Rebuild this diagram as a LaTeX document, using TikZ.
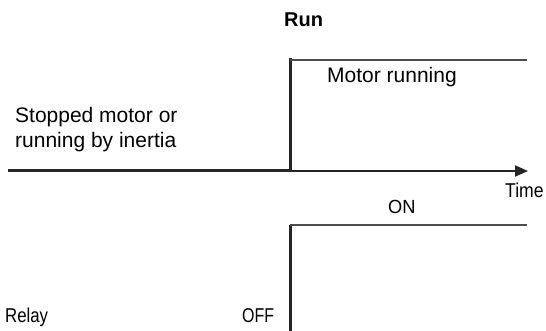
\documentclass[tikz,border=0pt]{standalone}
\usepackage{fontspec}
\setmainfont{Liberation Sans}
\usetikzlibrary{arrows.meta}
\begin{document}
\begin{tikzpicture}[x=1pt,y=-1pt,
  lbl/.style={inner sep=0pt,anchor=base west,font=\fontsize{21}{25}\selectfont},
  nlbl/.style={inner sep=0pt,anchor=base west,font=\fontsize{20}{24}\selectfont,xscale=0.8},
  thickline/.style={line width=3pt,black!85},
  thinline/.style={line width=2pt,black!70}]
\useasboundingbox (0,0) rectangle (546,331);
% coordinates
\coordinate (a0) at (8,171);
\coordinate (a1) at (290,171);
\coordinate (a2) at (290,60);
\coordinate (a3) at (527,60);
\coordinate (ae) at (528,171);
\coordinate (b0) at (290,331);
\coordinate (b1) at (290,225);
\coordinate (b2) at (527,225);
% upper signal
\draw[thickline] (a0) -- (a1);
\draw[line width=2pt,black!85,-{Triangle[length=13pt,width=11pt]}] (a1) -- (ae);
\draw[thickline,line cap=rect] (a1) -- (a2);
\draw[thinline] (a2) -- (a3);
% lower signal
\draw[thickline] (b0) -- (b1);
\draw[thinline] (b1) -- (b2);
% texts
\node[lbl,font=\fontsize{20}{24}\selectfont\bfseries] (run) at (284,27) {Run};
\node[lbl] (mr) at (327,83) {Motor running};
\node[lbl] (st1) at (15,123) {Stopped motor or};
\node[lbl] (st2) at (15,148) {running by inertia};
\node[nlbl,xscale=1.1] (time) at (505,197) {Time};
\node[nlbl,font=\fontsize{19}{23}\selectfont,xscale=1.2] (on) at (388,214) {ON};
\node[nlbl] (off) at (242,322) {OFF};
\node[nlbl,xscale=1.05] (relay) at (5,322) {Relay};
\end{tikzpicture}
\end{document}
